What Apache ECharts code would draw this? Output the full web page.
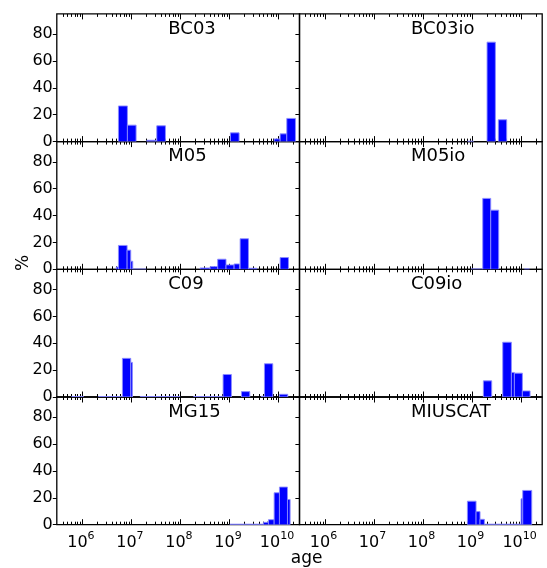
<!DOCTYPE html>
<html><head><meta charset="utf-8">
<script src="https://cdn.jsdelivr.net/npm/echarts@6/dist/echarts.min.js"></script>
<style>html,body{margin:0;padding:0;background:#fff}#c{width:547px;height:568px}</style>
</head><body><div id="c"></div>
<script>
// Panel names (row-major: left, right)
const panelNames = ['BC03', 'BC03io', 'M05', 'M05io', 'C09', 'C09io', 'MG15', 'MIUSCAT'];

// Histogram bins: [log10(age) lower edge, log10(age) upper edge, percent]
const BC03 = [[6.735, 6.918, 26.5], [6.918, 7.095, 12.25], [7.313, 7.503, 1.0], [7.517, 7.694, 11.75],
  [9.020, 9.197, 6.5], [9.912, 10.034, 2.0], [10.034, 10.170, 5.75], [10.170, 10.347, 17.25]];
const BC03io = [[8.91, 9.03, 0.3], [9.306, 9.476, 74], [9.537, 9.707, 16.25]];
const M05 = [[6.69, 6.735, 1.7], [6.735, 6.912, 17.75], [6.912, 6.986, 14.25], [6.986, 7.027, 6],
  [7.027, 7.30, 0.2], [8.40, 8.605, 1], [8.605, 8.76, 2], [8.76, 8.93, 7.5], [8.93, 9.095, 3.25],
  [9.095, 9.204, 4], [9.218, 9.388, 22.75], [9.39, 9.56, 0.75], [10.034, 10.204, 8.75]];
const M05io = [[8.98, 9.218, 0.3], [9.218, 9.381, 52.75], [9.381, 9.544, 44], [10.07, 10.17, 0.3]];
const C09 = [[5.78, 6.02, 0.3], [6.33, 6.80, 0.3], [6.816, 6.986, 28.75], [6.986, 7.02, 25.75],
  [7.18, 7.99, 0.3], [8.27, 8.87, 0.3], [8.87, 9.04, 16.75], [9.245, 9.415, 4], [9.65, 9.714, 0.5],
  [9.714, 9.884, 24.75], [10.02, 10.19, 2]];
const C09io = [[9.231, 9.401, 12], [9.626, 9.803, 40.75], [9.803, 9.864, 18.25], [9.864, 10.027, 17.75],
  [10.027, 10.184, 4.5]];
const MG15 = [[9.01, 9.694, 0.4], [9.694, 9.796, 1.75], [9.796, 9.912, 3.75], [9.912, 10.02, 23.75],
  [10.02, 10.184, 28], [10.184, 10.238, 18.75]];
const MIUSCAT = [[8.905, 9.082, 17.5], [9.082, 9.163, 9.75], [9.163, 9.252, 4], [9.252, 10.0, 0.4],
  [10.0, 10.034, 19.25], [10.034, 10.218, 25.5]];
const panelData = [BC03, BC03io, M05, M05io, C09, C09io, MG15, MIUSCAT];

// Ticks (log10 of age) and y ticks
const majorTicks = [6, 7, 8, 9, 10];
const minorMultipliers = [2, 3, 4, 5, 6, 7, 8, 9];
const minorDecades = [5, 6, 7, 8, 9, 10];
const yTicks = [0, 20, 40, 60, 80];
const xMin = Math.log10(3e5), xMax = Math.log10(2.7e10);
const yMax = 95;

const minorTicks = [];
minorDecades.forEach(d => minorMultipliers.forEach(m => {
  const v = d + Math.log10(m);
  if (v > xMin && v < xMax) minorTicks.push(v);
}));

const colLeft = [56.8, 299.4], colWidth = 242.8;
const rowTop = 13.9, rowH = 127.7;
const FONT = '"DejaVu Sans", sans-serif';

const grids = [], xAxes = [], yAxes = [], series = [], graphics = [];
panelNames.forEach((name, i) => {
  const col = i % 2, row = Math.floor(i / 2);
  const top = rowTop + row * rowH;
  grids.push({left: colLeft[col], top: top, width: colWidth, height: rowH, show: true,
    borderColor: '#000', borderWidth: 1.3, backgroundColor: 'transparent', containLabel: false, outerBoundsMode: 'none'});
  const base = {gridIndex: i, type: 'value', min: xMin, max: xMax,
    axisLine: {show: false}, splitLine: {show: false}, axisPointer: {show: false}};
  const xi = xAxes.length;
  ['bottom', 'top'].forEach(pos => {
    xAxes.push(Object.assign({}, base, {position: pos,
      axisTick: {show: true, inside: true, length: 5.5, customValues: majorTicks, lineStyle: {color: '#000', width: 1}},
      axisLabel: {show: pos === 'bottom' && row === 3, customValues: majorTicks, margin: 6,
        formatter: v => '{b|10}{s|' + Math.round(v) + '}',
        rich: {b: {fontSize: 16, fontFamily: FONT, color: '#000', lineHeight: 20, verticalAlign: 'bottom'},
               s: {fontSize: 11, fontFamily: FONT, color: '#000', lineHeight: 6, verticalAlign: 'top', padding: [0, 3, 0, 0]}}}
    }));
    xAxes.push(Object.assign({}, base, {position: pos,
      axisTick: {show: true, inside: true, length: 3, customValues: minorTicks, lineStyle: {color: '#000', width: 1}},
      axisLabel: {show: false}
    }));
  });
  const yi = yAxes.length;
  yAxes.push({gridIndex: i, type: 'value', min: 0, max: yMax, position: 'left',
    axisLine: {show: false}, splitLine: {show: false},
    axisTick: {show: true, inside: false, length: 4, customValues: yTicks, lineStyle: {color: '#000', width: 1}},
    axisLabel: {show: col === 0, customValues: yTicks, margin: 4, fontSize: 16, fontFamily: FONT, color: '#000'}
  });
  series.push({type: 'custom', xAxisIndex: xi, yAxisIndex: yi, clip: true, silent: true,
    data: panelData[i], encode: {x: [0, 1], y: 2},
    renderItem: function (params, api) {
      const p0 = api.coord([api.value(0), api.value(2)]);
      const p1 = api.coord([api.value(1), 0]);
      return {type: 'rect', shape: {x: p0[0], y: p0[1], width: p1[0] - p0[0], height: p1[1] - p0[1]},
        style: {fill: '#0000ff', stroke: '#8c8cff', lineWidth: 0.9}};
    }
  });
  graphics.push({type: 'text', x: colLeft[col] + 111.5, y: top + 15, z: 100,
    style: {text: name, font: '18px ' + FONT, fill: '#000', align: 'left', verticalAlign: 'middle',
      textAlign: 'left', textVerticalAlign: 'middle'}});
});

graphics.push({type: 'text', x: 24, y: 263, rotation: Math.PI / 2, z: 100,
  style: {text: '%', font: '17px ' + FONT, fill: '#000', align: 'center', verticalAlign: 'middle',
    textAlign: 'center', textVerticalAlign: 'middle'}});
graphics.push({type: 'text', x: 306.7, y: 558.5, z: 100,
  style: {text: 'age', font: '17px ' + FONT, fill: '#000', align: 'center', verticalAlign: 'middle',
    textAlign: 'center', textVerticalAlign: 'middle'}});

const chart = echarts.init(document.getElementById('c'), null, {renderer: 'canvas'});
chart.setOption({
  animation: false,
  backgroundColor: '#fff',
  grid: grids, xAxis: xAxes, yAxis: yAxes, series: series, graphic: graphics
});
</script></body></html>
